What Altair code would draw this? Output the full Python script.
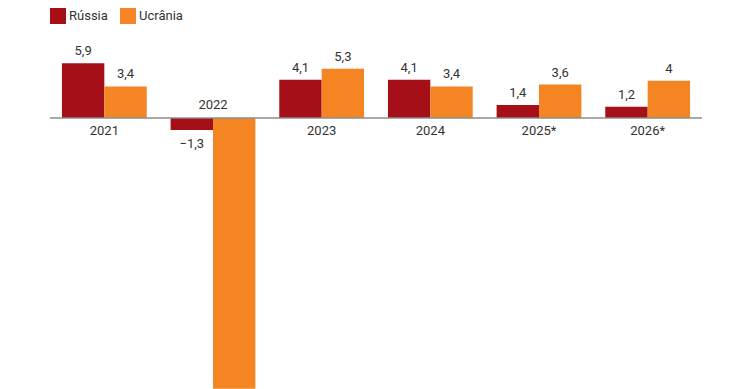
import altair as alt
import pandas as pd

years = ["2021", "2022", "2023", "2024", "2025*", "2026*"]
series = ["Rússia", "Ucrânia"]
russia = [5.9, -1.3, 4.1, 4.1, 1.4, 1.2]
ukraine = [3.4, -29.1, 5.3, 3.4, 3.6, 4.0]
colors = ["#a50f17", "#f58422"]


def fmt(v):
    s = f"{abs(v):g}".replace(".", ",")
    return ("\u2212" + s) if v < 0 else s


rows = []
for i, y in enumerate(years):
    for s, vals in zip(series, [russia, ukraine]):
        rows.append({
            "year": y, "series": s, "value": vals[i], "label": fmt(vals[i]),
            "zero": 0, "neg": 1 if russia[i] < 0 else 0,
        })
df = pd.DataFrame(rows)

font = "Roboto"
txt_color = "#333333"

x_enc = alt.X("year:N", sort=years, axis=None,
              scale=alt.Scale(paddingInner=0.22, paddingOuter=0.11))
xo_enc = alt.XOffset("series:N", sort=series, scale=alt.Scale(domain=series))
y_scale = alt.Scale(domain=[-30, 7.527], nice=False, zero=True)
y_enc = alt.Y("value:Q", axis=None, scale=y_scale)
y0 = alt.Y("zero:Q", axis=None, scale=y_scale)

base = alt.Chart(df)

bars = base.mark_bar(clip=True).encode(
    x=x_enc,
    xOffset=xo_enc,
    y=y_enc,
    color=alt.Color(
        "series:N",
        scale=alt.Scale(domain=series, range=colors),
        legend=alt.Legend(
            orient="none", legendX=0, legendY=-40, direction="horizontal",
            title=None, symbolType="square", symbolSize=256,
            symbolStrokeWidth=0, labelFontSize=13, labelFont=font,
            labelColor=txt_color, columnPadding=12, labelOffset=3,
            padding=0,
        ),
    ),
)

pos_labels = base.transform_filter("datum.value >= 0").mark_text(
    baseline="alphabetic", dy=-8, fontSize=13, font=font, color=txt_color
).encode(x=x_enc, xOffset=xo_enc, y=y_enc, text="label:N")

# labels of bars that run past the bottom of the picture stay out of view
neg_labels = base.transform_filter("datum.value < 0 && datum.value > -20").mark_text(
    baseline="alphabetic", dy=17.5, fontSize=13, font=font, color=txt_color
).encode(x=x_enc, xOffset=xo_enc, y=y_enc, text="label:N")

half = 21.19
year_below = base.transform_filter("datum.series == 'Rússia' && datum.neg == 0").mark_text(
    baseline="alphabetic", dy=17, dx=half, fontSize=13, font=font, color=txt_color
).encode(x=x_enc, xOffset=xo_enc, y=y0, text="year:N")
year_above = base.transform_filter("datum.series == 'Rússia' && datum.neg == 1").mark_text(
    baseline="alphabetic", dy=-9, dx=half, fontSize=13, font=font, color=txt_color
).encode(x=x_enc, xOffset=xo_enc, y=y0, text="year:N")

rule = base.transform_filter("datum.series == 'Rússia' && datum.year == '2021'").mark_rule(
    color="#8c8c8c", strokeWidth=1.5
).encode(y=y0)

chart = alt.layer(bars, rule, pos_labels, neg_labels, year_below, year_above).properties(
    width=652,
    height=349,
    autosize=alt.AutoSizeParams(type="none"),
    padding={"left": 42, "top": 40, "right": 30, "bottom": 0},
).configure_view(stroke=None)

chart.save("out.html", embed_options={"renderer": "svg", "actions": False})
